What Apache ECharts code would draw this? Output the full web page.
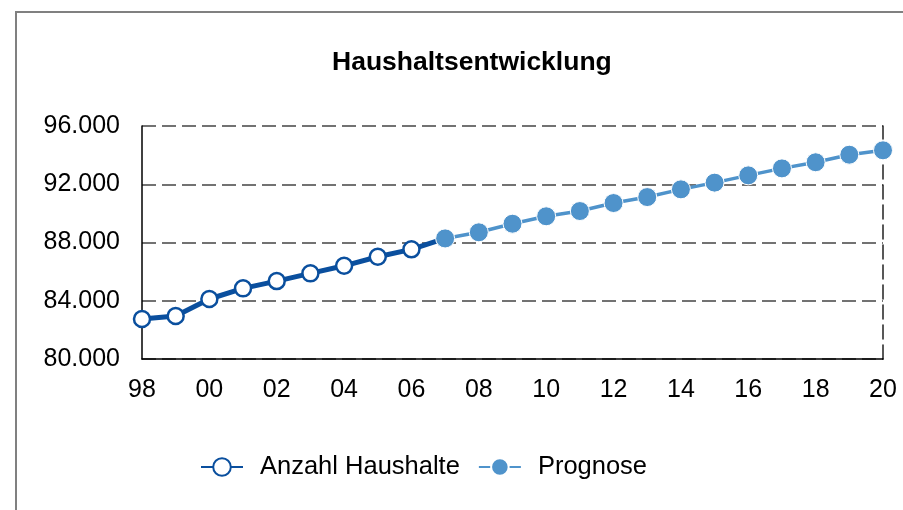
<!DOCTYPE html>
<html>
<head>
<meta charset="utf-8">
<script src="https://cdn.jsdelivr.net/npm/echarts@6/dist/echarts.min.js"></script>
<style>
  html, body { margin: 0; padding: 0; background: #fff; }
  #chart { width: 903px; height: 510px; }
</style>
</head>
<body>
<div id="chart"></div>
<script>
// Jahre 1998 - 2020, Beschriftung zweistellig
const years = ['98', '99', '00', '01', '02', '03', '04', '05', '06', '07', '08', '09',
  '10', '11', '12', '13', '14', '15', '16', '17', '18', '19', '20'];

// Ist-Werte 1998 - 2007 (2007 ist Anschluss an die Prognose)
const haushalte = [82750, 82950, 84120, 84850, 85350, 85880, 86400, 87020, 87530, 88280];

// Prognose 2007 - 2020
const prognose = [88280, 88700, 89290, 89800, 90160, 90710, 91120, 91650, 92110, 92610,
  93090, 93510, 94030, 94330];

const yTicks = { min: 80000, max: 96000, step: 4000 };

const fmt = v => String(v).replace(/\B(?=(\d{3})+(?!\d))/g, '.');

// Serien auf die volle Kategorienlänge bringen
const histData = years.map((y, i) => i < haushalte.length ? haushalte[i] : '-');
const progStart = years.length - prognose.length;
const progData = years.map((y, i) => i >= progStart ? prognose[i - progStart] : '-');

const font = 'Liberation Sans, Arial, sans-serif';
const chart = echarts.init(document.getElementById('chart'));

chart.setOption({
  animation: false,
  backgroundColor: '#fff',
  textStyle: { fontFamily: font },
  graphic: [{
    type: 'rect',
    shape: { x: 16, y: 12, width: 1000, height: 1000 },
    style: { fill: 'none', stroke: '#808080', lineWidth: 2 },
    silent: true
  }],
  title: {
    text: 'Haushaltsentwicklung',
    left: 327,
    top: 44,
    textStyle: { fontFamily: font, fontSize: 26.5, fontWeight: 'bold', color: '#000' }
  },
  legend: {
    left: 195,
    top: 449,
    itemWidth: 42,
    itemHeight: 22,
    itemGap: 18,
    textStyle: { fontFamily: font, fontSize: 25.5, color: '#000', padding: [0, 0, 0, 12] },
    data: ['Anzahl Haushalte', 'Prognose']
  },
  grid: { left: 142, right: 20, top: 126, bottom: 151, containLabel: false },
  xAxis: {
    type: 'category',
    data: years,
    boundaryGap: false,
    axisLine: { lineStyle: { color: '#000', width: 1.5 } },
    axisTick: { show: false },
    axisLabel: {
      interval: 1,
      margin: 19,
      fontFamily: font,
      fontSize: 25,
      color: '#000'
    },
    splitLine: { show: false }
  },
  yAxis: [{
    type: 'value',
    min: yTicks.min,
    max: yTicks.max,
    interval: yTicks.step,
    axisLine: { show: true, lineStyle: { color: '#000', width: 1.5 } },
    axisTick: { show: false },
    axisLabel: {
      margin: 22,
      fontFamily: font,
      fontSize: 25,
      color: '#000',
      formatter: fmt
    },
    splitLine: {
      show: true,
      lineStyle: { color: '#444', width: 1.5, type: [14, 6] }
    }
  }, {
    type: 'value',
    position: 'right',
    min: yTicks.min,
    max: yTicks.max,
    interval: yTicks.step,
    axisLine: { show: true, lineStyle: { color: '#222', width: 1.5, type: [14, 6] } },
    axisTick: { show: false },
    axisLabel: { show: false },
    splitLine: { show: false }
  }],
  series: [{
    name: 'Anzahl Haushalte',
    type: 'line',
    data: histData,
    z: 2,
    color: '#0A4F9E',
    symbol: 'circle',
    symbolSize: 16,
    lineStyle: { color: '#0A4F9E', width: 5 },
    itemStyle: { color: '#fff', borderColor: '#0A4F9E', borderWidth: 2.5 },
    showSymbol: true
  }, {
    name: 'Prognose',
    type: 'line',
    data: progData,
    z: 3,
    color: '#4F93CB',
    symbol: 'circle',
    symbolSize: 19,
    lineStyle: { color: '#4F93CB', width: 3.5 },
    itemStyle: { color: '#4F93CB', borderColor: '#fff', borderWidth: 1 }
  }]
});
</script>
</body>
</html>
